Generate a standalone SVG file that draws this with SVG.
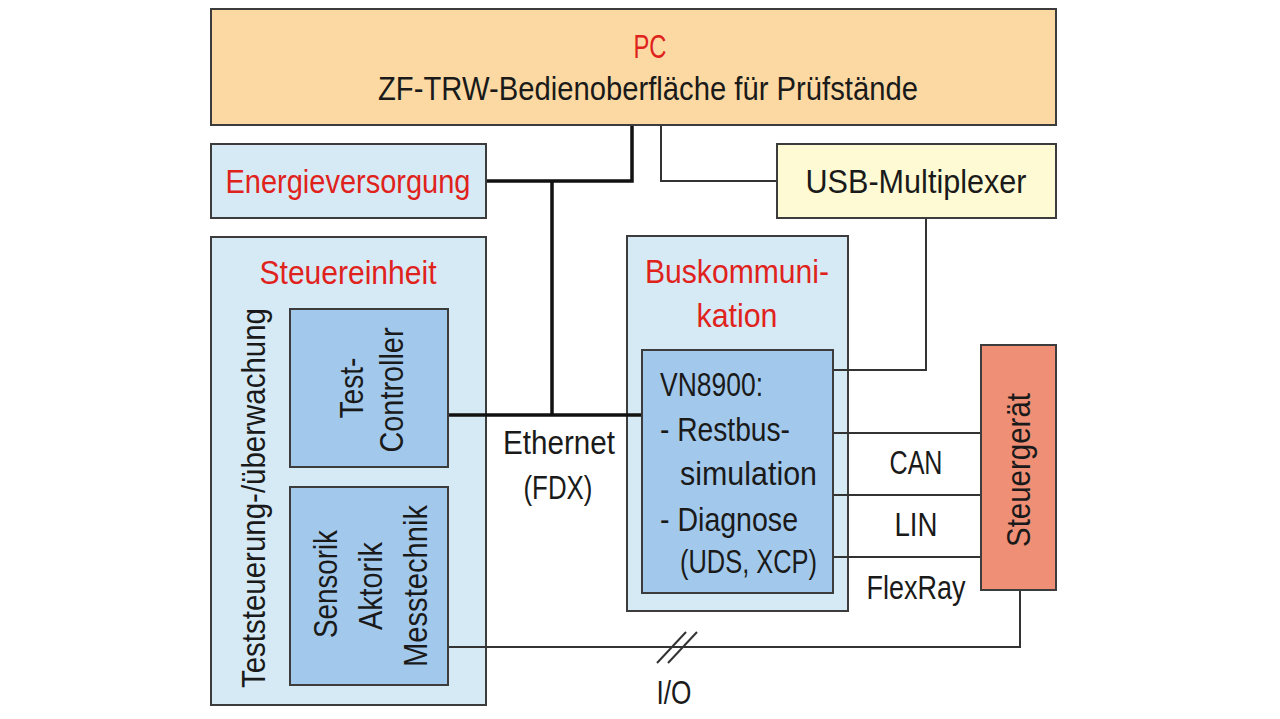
<svg xmlns="http://www.w3.org/2000/svg" width="1280" height="719" viewBox="0 0 1280 719">
<style>
text{font-family:"Liberation Sans Narrow","Liberation Sans",Arial,sans-serif;font-size:34px;fill:#1a1a1a}
.red{fill:#e0221c}
.box{stroke:#3c3c3c;stroke-width:2}
.lb{fill:#d6eaf5}
.mb{fill:#a2c9ec}
.thick{stroke:#111;stroke-width:3.5;fill:none}
.thin{stroke:#333;stroke-width:2;fill:none}
</style>
<rect width="1280" height="719" fill="#ffffff"/>
<g id="pc">
<rect class="box" x="211" y="9" width="845" height="116" fill="#fcd9a2"/>
<text class="red" x="650" y="58" text-anchor="middle" textLength="33" lengthAdjust="spacingAndGlyphs">PC</text>
<text x="648" y="100" text-anchor="middle" textLength="540" lengthAdjust="spacingAndGlyphs">ZF-TRW-Bedienoberfläche für Prüfstände</text>
</g>
<g id="energie">
<rect class="box lb" x="211" y="144" width="275" height="74"/>
<text class="red" x="348" y="193" text-anchor="middle" textLength="245" lengthAdjust="spacingAndGlyphs">Energieversorgung</text>
</g>
<g id="usb">
<rect class="box" x="777" y="144" width="279" height="74" fill="#fefad3"/>
<text x="916" y="193" text-anchor="middle" textLength="221" lengthAdjust="spacingAndGlyphs">USB-Multiplexer</text>
</g>
<g id="steuereinheit">
<rect class="box lb" x="211" y="237" width="275" height="468"/>
<text class="red" x="348" y="284" text-anchor="middle" textLength="177" lengthAdjust="spacingAndGlyphs">Steuereinheit</text>
<text transform="translate(265,498) rotate(-90)" text-anchor="middle" textLength="380" lengthAdjust="spacingAndGlyphs">Teststeuerung-/überwachung</text>
</g>
<g id="testcontroller">
<rect class="box mb" x="290" y="309" width="158" height="158"/>
<text transform="translate(363,388) rotate(-90)" text-anchor="middle" textLength="61" lengthAdjust="spacingAndGlyphs">Test-</text>
<text transform="translate(403,390) rotate(-90)" text-anchor="middle" textLength="125" lengthAdjust="spacingAndGlyphs">Controller</text>
</g>
<g id="sensorik">
<rect class="box mb" x="290" y="487" width="158" height="198"/>
<text transform="translate(337,584) rotate(-90)" text-anchor="middle" textLength="108" lengthAdjust="spacingAndGlyphs">Sensorik</text>
<text transform="translate(382,586) rotate(-90)" text-anchor="middle" textLength="88" lengthAdjust="spacingAndGlyphs">Aktorik</text>
<text transform="translate(427,586) rotate(-90)" text-anchor="middle" textLength="162" lengthAdjust="spacingAndGlyphs">Messtechnik</text>
</g>
<g id="buskommunikation">
<rect class="box lb" x="627" y="236" width="221" height="375"/>
<text class="red" x="737" y="283" text-anchor="middle" textLength="184" lengthAdjust="spacingAndGlyphs">Buskommuni-</text>
<text class="red" x="737" y="327" text-anchor="middle" textLength="81" lengthAdjust="spacingAndGlyphs">kation</text>
</g>
<g id="vn8900">
<rect class="box mb" x="642" y="350" width="191" height="243"/>
<text x="660" y="396" textLength="103" lengthAdjust="spacingAndGlyphs">VN8900:</text>
<text x="660" y="441" textLength="130" lengthAdjust="spacingAndGlyphs">- Restbus-</text>
<text x="680" y="485" textLength="137" lengthAdjust="spacingAndGlyphs">simulation</text>
<text x="660" y="531" textLength="138" lengthAdjust="spacingAndGlyphs">- Diagnose</text>
<text x="680" y="573" textLength="137" lengthAdjust="spacingAndGlyphs">(UDS, XCP)</text>
</g>
<g id="steuergeraet">
<rect class="box" x="981" y="345" width="75" height="245" fill="#ef8f76"/>
<text transform="translate(1030,470) rotate(-90)" text-anchor="middle" textLength="154" lengthAdjust="spacingAndGlyphs">Steuergerät</text>
</g>
<g id="connectors">
<polyline class="thick" points="632,126 632,181 487,181"/>
<polyline class="thick" points="552,181 552,415"/>
<polyline class="thick" points="449,415 641,415"/>
<polyline class="thin" points="661,126 661,181 776,181"/>
<polyline class="thin" points="926,219 926,370 834,370"/>
<line class="thin" x1="834" y1="433" x2="980" y2="433"/>
<line class="thin" x1="834" y1="495" x2="980" y2="495"/>
<line class="thin" x1="834" y1="557" x2="980" y2="557"/>
<polyline class="thin" points="449,647 1020,647 1020,591"/>
<line class="thin" x1="657" y1="663" x2="686" y2="632"/>
<line class="thin" x1="668" y1="663" x2="697" y2="632"/>
<text x="916" y="474" text-anchor="middle" textLength="53" lengthAdjust="spacingAndGlyphs">CAN</text>
<text x="916" y="536" text-anchor="middle" textLength="43" lengthAdjust="spacingAndGlyphs">LIN</text>
<text x="916" y="599" text-anchor="middle" textLength="99" lengthAdjust="spacingAndGlyphs">FlexRay</text>
<text x="559" y="454" text-anchor="middle" textLength="112" lengthAdjust="spacingAndGlyphs">Ethernet</text>
<text x="558" y="499" text-anchor="middle" textLength="69" lengthAdjust="spacingAndGlyphs">(FDX)</text>
<text x="674" y="704" text-anchor="middle" textLength="35" lengthAdjust="spacingAndGlyphs">I/O</text>
</g>
</svg>
